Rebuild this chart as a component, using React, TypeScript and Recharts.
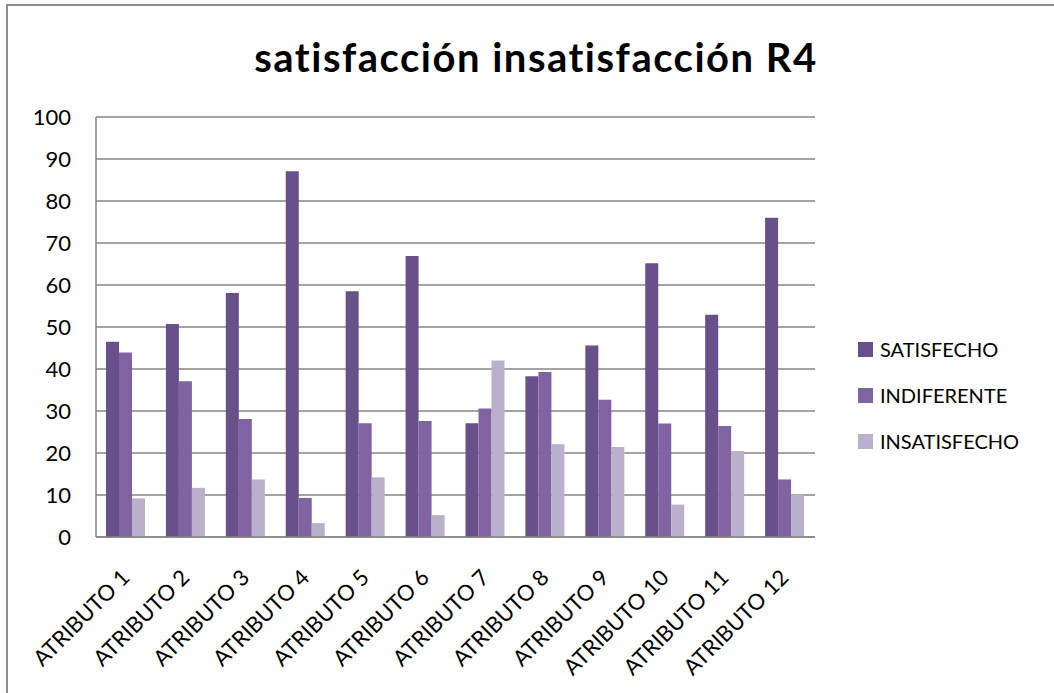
import React from "react";
import { BarChart, Bar, XAxis, YAxis, CartesianGrid, Legend } from "recharts";

const categories = [
  "ATRIBUTO 1", "ATRIBUTO 2", "ATRIBUTO 3", "ATRIBUTO 4", "ATRIBUTO 5", "ATRIBUTO 6",
  "ATRIBUTO 7", "ATRIBUTO 8", "ATRIBUTO 9", "ATRIBUTO 10", "ATRIBUTO 11", "ATRIBUTO 12",
];
const satisfecho = [46.5, 50.7, 58.1, 87.1, 58.5, 66.9, 27.1, 38.3, 45.6, 65.2, 52.9, 76.0];
const indiferente = [43.9, 37.1, 28.1, 9.3, 27.1, 27.6, 30.6, 39.3, 32.7, 27.0, 26.4, 13.7];
const insatisfecho = [9.2, 11.7, 13.7, 3.3, 14.2, 5.2, 42.0, 22.1, 21.4, 7.7, 20.5, 10.1];
const yTicks = [0, 10, 20, 30, 40, 50, 60, 70, 80, 90, 100];

const series = [
  { key: "SATISFECHO", values: satisfecho, color: "#68518a" },
  { key: "INDIFERENTE", values: indiferente, color: "#8064a2" },
  { key: "INSATISFECHO", values: insatisfecho, color: "#bab0cb" },
];

const data = categories.map((name, i) => {
  const row: any = { name };
  series.forEach(s => { row[s.key] = s.values[i]; });
  return row;
});

const FONT = "Lato, 'Open Sans', sans-serif";

const XTick = ({ x, y, payload }: any) => {
  const ax = x + 5;
  const ay = y + 34;
  return (
    <text
      x={ax}
      y={ay}
      transform={`rotate(-45, ${ax}, ${ay})`}
      textAnchor="end"
      fill="#000"
      fontSize={22}
      fontFamily={FONT}
    >
      {payload.value}
    </text>
  );
};

const LegendBox = () => (
  <div style={{ fontFamily: FONT, fontSize: 20, color: "#000" }}>
    {series.map(s => (
      <div key={s.key} style={{ display: "flex", alignItems: "center", height: 46 }}>
        <div style={{ width: 15, height: 15, background: s.color, marginRight: 7 }} />
        <span>{s.key}</span>
      </div>
    ))}
  </div>
);

const App: React.FC = () => {
  return (
    <div style={{ position: "absolute", left: 0, top: 0, width: 1054, height: 693, overflow: "hidden", background: "#fff" }}>
      <div
        style={{
          position: "absolute",
          left: 6,
          top: 4,
          width: 1200,
          height: 900,
          border: "2px solid #8c8c8c",
        }}
      />
      <div
        style={{
          position: "absolute",
          left: 0,
          width: 1072,
          top: 33,
          textAlign: "center",
          fontFamily: FONT,
          fontWeight: "bold",
          fontSize: 40,
          letterSpacing: 1.5,
          color: "#000",
        }}
      >
        satisfacción insatisfacción R4
      </div>
      <div style={{ position: "absolute", left: 0, top: 0 }}>
        <BarChart
          width={1054}
          height={693}
          data={data}
          margin={{ top: 117, right: 239, bottom: 6, left: 0 }}
          barGap={0}
        >
          <CartesianGrid vertical={false} stroke="#868686" strokeWidth={1.5} />
          <XAxis
            dataKey="name"
            height={150}
            tick={<XTick />}
            tickLine={false}
            axisLine={{ stroke: "#868686", strokeWidth: 1.5 }}
            interval={0}
          />
          <YAxis
            width={96}
            domain={[0, 100]}
            ticks={yTicks}
            tickLine={false}
            tickSize={0}
            tickMargin={25}
            axisLine={{ stroke: "#868686", strokeWidth: 1.5 }}
            tick={{ fill: "#000", fontSize: 22, fontFamily: FONT }}
            interval={0}
          />
          <Legend
            layout="vertical"
            align="center"
            verticalAlign="middle"
            content={<LegendBox />}
            wrapperStyle={{ position: "absolute", left: 858, top: 326, width: 190 }}
          />
          {series.map(s => (
            <Bar key={s.key} dataKey={s.key} fill={s.color} barSize={13} isAnimationActive={false} />
          ))}
        </BarChart>
      </div>
    </div>
  );
};

export default App;
